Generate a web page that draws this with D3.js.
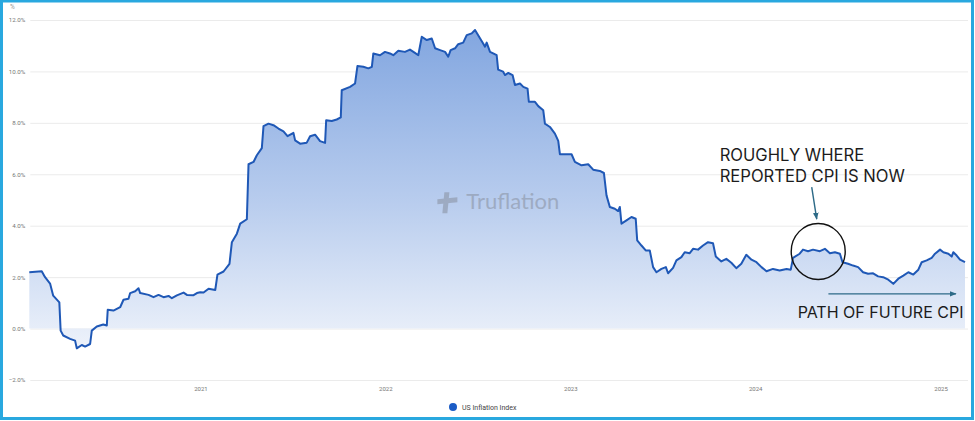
<!DOCTYPE html>
<html>
<head>
<meta charset="utf-8">
<script src="https://cdn.jsdelivr.net/npm/d3@7"></script>
<style>
  html, body { margin: 0; padding: 0; background: #fff; }
  svg { display: block; font-family: Roboto, "Noto Sans", sans-serif; }
</style>
</head>
<body>
<svg id="chart" width="975" height="421"></svg>
<script>
//US inflation index: time as decimal year, value in %
var years = [2020.077,2020.144,2020.162,2020.189,2020.206,2020.239,2020.246,2020.260,2020.297,2020.324,
  2020.333,2020.360,2020.378,2020.405,2020.414,2020.441,2020.476,2020.495,2020.500,2020.531,
  2020.567,2020.585,2020.612,2020.621,2020.648,2020.666,2020.675,2020.720,2020.747,2020.774,
  2020.801,2020.828,2020.846,2020.873,2020.909,2020.927,2020.963,2020.981,2020.999,2021.017,
  2021.044,2021.080,2021.092,2021.125,2021.157,2021.170,2021.197,2021.215,2021.251,2021.260,
  2021.287,2021.305,2021.332,2021.341,2021.368,2021.395,2021.422,2021.449,2021.471,2021.503,
  2021.512,2021.539,2021.575,2021.593,2021.620,2021.647,2021.674,2021.680,2021.710,2021.737,
  2021.759,2021.764,2021.809,2021.836,2021.849,2021.881,2021.908,2021.927,2021.935,2021.971,
  2021.998,2022.025,2022.043,2022.070,2022.106,2022.133,2022.160,2022.178,2022.197,2022.224,
  2022.251,2022.269,2022.296,2022.323,2022.340,2022.353,2022.377,2022.394,2022.421,2022.440,
  2022.467,2022.485,2022.502,2022.529,2022.539,2022.548,2022.566,2022.583,2022.602,2022.610,
  2022.637,2022.647,2022.665,2022.688,2022.701,2022.728,2022.746,2022.769,2022.776,2022.809,
  2022.827,2022.854,2022.863,2022.890,2022.917,2022.935,2022.944,2022.971,2023.007,2023.025,
  2023.061,2023.097,2023.124,2023.160,2023.182,2023.196,2023.214,2023.241,2023.259,2023.268,
  2023.277,2023.304,2023.331,2023.354,2023.362,2023.385,2023.408,2023.430,2023.448,2023.466,
  2023.493,2023.517,2023.529,2023.556,2023.574,2023.601,2023.619,2023.646,2023.664,2023.691,
  2023.718,2023.745,2023.772,2023.787,2023.817,2023.844,2023.871,2023.898,2023.925,2023.952,
  2023.980,2024.007,2024.034,2024.061,2024.096,2024.132,2024.169,2024.192,2024.204,2024.240,
  2024.258,2024.285,2024.312,2024.349,2024.376,2024.403,2024.430,2024.457,2024.471,2024.501,
  2024.528,2024.555,2024.582,2024.609,2024.636,2024.663,2024.690,2024.718,2024.745,2024.772,
  2024.799,2024.826,2024.853,2024.880,2024.898,2024.925,2024.952,2024.970,2024.997,2025.015,
  2025.042,2025.060,2025.069,2025.087,2025.105,2025.132];

var inflation = [2.19,2.23,2.00,1.75,1.28,1.02,-0.08,-0.27,-0.40,-0.47,
  -0.77,-0.64,-0.70,-0.60,-0.08,0.08,0.16,0.12,0.73,0.70,
  0.83,1.12,1.16,1.38,1.45,1.57,1.38,1.31,1.22,1.31,
  1.22,1.27,1.18,1.29,1.40,1.31,1.30,1.38,1.41,1.40,
  1.55,1.50,2.10,2.22,2.52,3.36,3.69,4.08,4.25,6.39,
  6.48,6.74,7.02,7.87,7.97,7.91,7.78,7.67,7.48,7.61,
  7.32,7.19,7.23,7.48,7.54,7.29,7.22,8.10,8.07,8.13,
  8.21,9.27,9.40,9.53,10.21,10.18,10.12,10.18,10.70,10.63,
  10.76,10.70,10.63,10.80,10.76,10.85,10.72,10.63,11.35,11.22,
  11.28,10.90,10.83,10.76,10.57,10.83,10.90,11.06,11.12,11.41,
  11.48,11.61,11.41,11.09,10.96,11.12,10.76,10.70,10.63,10.07,
  9.99,9.86,9.94,9.86,9.47,9.53,9.40,9.33,8.82,8.82,
  8.65,8.49,7.97,7.84,7.58,7.30,6.78,6.78,6.78,6.48,
  6.35,6.39,6.18,6.13,6.05,5.18,4.73,4.66,4.57,4.73,
  4.08,4.21,4.34,4.27,3.43,3.23,3.04,3.04,2.39,2.19,
  2.32,2.39,2.15,2.36,2.65,2.78,2.97,2.93,3.10,3.07,
  3.23,3.36,3.32,2.80,2.61,2.71,2.56,2.35,2.52,2.87,
  2.68,2.58,2.39,2.23,2.32,2.26,2.32,2.29,2.75,2.91,
  3.07,3.01,3.07,3.01,3.10,2.93,2.97,2.91,2.58,2.52,
  2.45,2.39,2.19,2.13,2.15,2.03,2.00,1.90,1.74,1.94,
  2.06,2.19,2.10,2.29,2.58,2.65,2.75,2.91,3.07,2.97,
  2.91,2.80,2.97,2.84,2.68,2.58];

var yTicks = [-2, 0, 2, 4, 6, 8, 10, 12];
var xTickYears = [2021, 2022, 2023, 2024, 2025];
var seriesName = "US Inflation Index";

//annotations, placed in data space (decimal year, %)
var noteLines = ["ROUGHLY WHERE", "REPORTED CPI IS NOW"];
var noteAt = [2023.808, 6.52];
var noteArrow = [[2024.305, 5.50], [2024.332, 4.26]];
var circleAt = [2024.34, 3.0];
var futureArrow = [[2024.395, 1.35], [2025.083, 1.35]];
var futureText = "PATH OF FUTURE CPI";
var futureTextAt = [2024.229, 0.40];
var watermarkAt = [2022.33, 4.95];

//decimal year -> Date
function toDate(t) {
  var yr = Math.floor(t);
  var a = new Date(yr, 0, 1).getTime(), b = new Date(yr + 1, 0, 1).getTime();
  return new Date(a + (t - yr) * (b - a));
}

var data = years.map(function(t, i) { return {date: toDate(t), value: inflation[i]}; });

var svg = d3.select("#chart"),
  W = +svg.attr("width"), H = +svg.attr("height"),
  left = 29.3, right = 965, gridRight = 968;

var x = d3.scaleTime()
  .domain(d3.extent(data, function(d) { return d.date; }))
  .range([left, right]);

var y = d3.scaleLinear()
  .domain([-2, 12])
  .range([380, 20]);

function px(p) { return [x(toDate(p[0])), y(p[1])]; }

//gradient for the area
var defs = svg.append("defs");
var grad = defs.append("linearGradient")
  .attr("id", "areaFill")
  .attr("gradientUnits", "userSpaceOnUse")
  .attr("x1", 0).attr("x2", 0)
  .attr("y1", y(12)).attr("y2", y(-1));
grad.append("stop").attr("offset", "0%").attr("stop-color", "#7fa4df");
grad.append("stop").attr("offset", "55%").attr("stop-color", "#b9cdee");
grad.append("stop").attr("offset", "100%").attr("stop-color", "#f0f4fb");

var arrowHead = defs.append("marker")
  .attr("id", "arrow")
  .attr("viewBox", "0 0 10 10")
  .attr("refX", 9).attr("refY", 5)
  .attr("markerWidth", 5).attr("markerHeight", 5)
  .attr("orient", "auto");
arrowHead.append("path").attr("d", "M0,1L10,5L0,9Z").attr("fill", "#2d6a87");

//gridlines + y labels
var yAxis = svg.append("g")
  .attr("transform", "translate(" + (left + 1) + ",0)")
  .call(d3.axisLeft(y).tickValues(yTicks)
    .tickSize(-(gridRight - left - 1))
    .tickPadding(5)
    .tickFormat(function(d) { return d3.format(".1f")(d) + "%"; }));
yAxis.select(".domain").remove();
yAxis.selectAll(".tick line").attr("stroke", "#ebebeb");
yAxis.selectAll(".tick text")
  .attr("fill", "#777")
  .attr("font-size", 6.2)
  .attr("font-family", "Roboto, sans-serif");

svg.append("text")
  .attr("x", 10).attr("y", 9)
  .attr("font-size", 6.5)
  .attr("fill", "#999")
  .text("%");

//area + line
var area = d3.area()
  .x(function(d) { return x(d.date); })
  .y0(y(0))
  .y1(function(d) { return y(d.value); });

var line = d3.line()
  .x(function(d) { return x(d.date); })
  .y(function(d) { return y(d.value); });

svg.append("path")
  .datum(data)
  .attr("fill", "url(#areaFill)")
  .attr("d", area);

//watermark
var wm = svg.append("g")
  .attr("transform", "translate(" + px(watermarkAt)[0] + "," + px(watermarkAt)[1] + ")")
  .attr("fill", "#8f99ab")
  .attr("opacity", 0.65);
wm.append("path").attr("d", "M-2,-9 L3,-9 L1,12 L-4,12 Z");
wm.append("path").attr("d", "M-9,-2 L11,-4 L11,1 L-9,3 Z");
wm.append("text")
  .attr("x", 20).attr("y", 8)
  .attr("font-family", "Lato, sans-serif")
  .attr("font-size", 22)
  .text("Truflation");

svg.append("path")
  .datum(data)
  .attr("fill", "none")
  .attr("stroke", "#1f58b6")
  .attr("stroke-width", 2)
  .attr("stroke-linejoin", "round")
  .attr("d", line);

//x labels
var xAxis = svg.append("g")
  .attr("transform", "translate(0,384)")
  .call(d3.axisBottom(x)
    .tickValues(xTickYears.map(function(yr) { return new Date(yr, 0, 1); }))
    .tickSize(0)
    .tickFormat(d3.timeFormat("%Y")));
xAxis.select(".domain").remove();
xAxis.selectAll(".tick text")
  .attr("fill", "#777")
  .attr("font-size", 6)
  .attr("font-family", "Roboto, sans-serif");

//legend
var legend = svg.append("g").attr("transform", "translate(453,407)");
legend.append("circle").attr("r", 4).attr("fill", "#1b5cc6");
legend.append("text")
  .attr("x", 9).attr("y", 2.5)
  .attr("font-size", 7)
  .attr("fill", "#444")
  .text(seriesName);

//annotations
var note = svg.append("text")
  .attr("x", px(noteAt)[0]).attr("y", px(noteAt)[1])
  .attr("font-family", "Inter, sans-serif")
  .attr("font-size", 16.6)
  .attr("fill", "#1c1c1c");
note.selectAll("tspan")
  .data(noteLines)
  .enter().append("tspan")
  .attr("x", px(noteAt)[0])
  .attr("dy", function(d, i) { return i ? 21.5 : 0; })
  .text(function(d) { return d; });

svg.append("line")
  .attr("x1", px(noteArrow[0])[0]).attr("y1", px(noteArrow[0])[1])
  .attr("x2", px(noteArrow[1])[0]).attr("y2", px(noteArrow[1])[1])
  .attr("stroke", "#2d6a87").attr("stroke-width", 1.4)
  .attr("marker-end", "url(#arrow)");

svg.append("ellipse")
  .attr("cx", px(circleAt)[0]).attr("cy", px(circleAt)[1])
  .attr("rx", 27).attr("ry", 28)
  .attr("fill", "none")
  .attr("stroke", "#111").attr("stroke-width", 1.4);

svg.append("line")
  .attr("x1", px(futureArrow[0])[0]).attr("y1", px(futureArrow[0])[1])
  .attr("x2", px(futureArrow[1])[0]).attr("y2", px(futureArrow[1])[1])
  .attr("stroke", "#2d6a87").attr("stroke-width", 1.4)
  .attr("marker-end", "url(#arrow)");

svg.append("text")
  .attr("x", px(futureTextAt)[0]).attr("y", px(futureTextAt)[1])
  .attr("font-family", "Inter, sans-serif")
  .attr("font-size", 16)
  .attr("fill", "#1c1c1c")
  .text(futureText);

//frame
svg.append("rect")
  .attr("x", 1.5).attr("y", 1).attr("width", W - 4).attr("height", H - 3.5)
  .attr("fill", "none")
  .attr("stroke", "#29a8df")
  .attr("stroke-width", 3);
</script>
</body>
</html>
